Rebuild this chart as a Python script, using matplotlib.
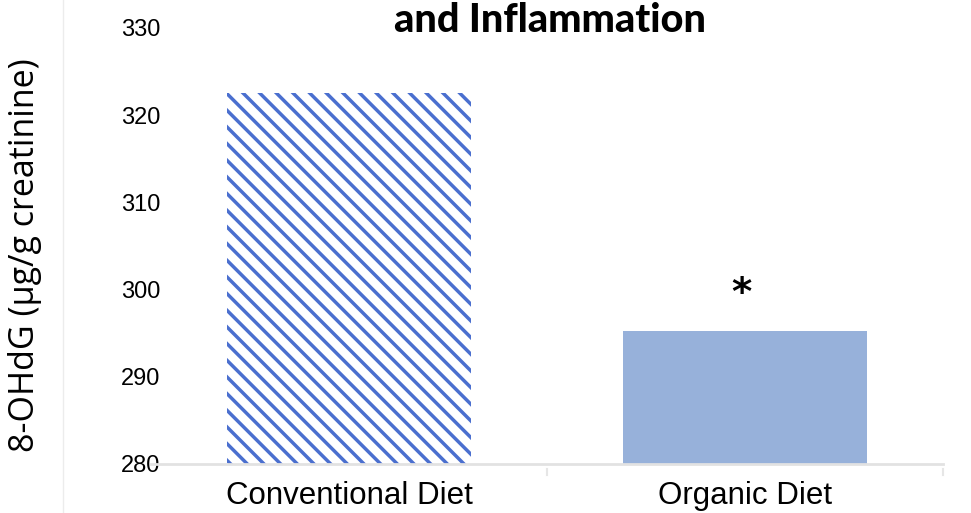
import matplotlib
matplotlib.use("Agg")
import matplotlib.pyplot as plt
from matplotlib.lines import Line2D

categories = ["Conventional Diet", "Organic Diet"]
values = [322.6, 295.3]
yticks = [280, 290, 300, 310, 320, 330]
title = "and Inflammation"
ylabel = "8-OHdG (μg/g creatinine)"

W, H = 971, 513
fig = plt.figure(figsize=(W / 100, H / 100), dpi=100)
plt.rcParams['hatch.linewidth'] = 2.5

ax = fig.add_axes([151 / W, (H - 464) / H, (943 - 151) / W, (464 - 28) / H])
ax.set_xlim(-0.5, 1.5)
ax.set_ylim(280, 330)

bw = 0.616
b1 = ax.bar(0, values[0] - 280, bottom=280, width=bw, facecolor="white",
            edgecolor="#4a6fcf", hatch="\\\\", linewidth=0, zorder=2)
b2 = ax.bar(1, values[1] - 280, bottom=280, width=bw, facecolor="#97b1da",
            edgecolor="none", linewidth=0, zorder=2)

ax.text(0.99, 297.3, "*", ha="center", va="bottom", fontsize=28,
        fontweight="bold", family="DejaVu Sans", color="black")

for s in ["top", "right", "left"]:
    ax.spines[s].set_visible(False)
ax.spines["bottom"].set_color("#e2e2e2")
ax.spines["bottom"].set_linewidth(2)

ax.set_yticks(yticks)
ax.set_yticklabels([str(v) for v in yticks], family="Liberation Sans", fontsize=17)
ax.tick_params(axis="y", length=0, pad=-7)

ax.set_xticks([0, 1])
ax.set_xticklabels(categories, family="Liberation Sans", fontsize=22.5)
ax.tick_params(axis="x", length=0, pad=12)
for xb in [0.5, 1.5]:
    ax.plot([xb, xb], [-0.012, -0.025], transform=ax.get_xaxis_transform(),
            color="#e6e6e6", lw=1.5, clip_on=False)

fig.text(25 / W, 1 - 255 / H, ylabel, rotation=90, ha="center", va="center",
         family="Open Sans", fontsize=24.5, color="black")

fig.text(550 / W, 1 - 32 / H, title, ha="center", va="baseline",
         family="Lato", fontweight="black", fontsize=28.5, color="black")

fig.add_artist(Line2D([63 / W, 63 / W], [0, 1], color="#ececec", lw=1,
                      transform=fig.transFigure))

fig.savefig("out.png", dpi=100)
